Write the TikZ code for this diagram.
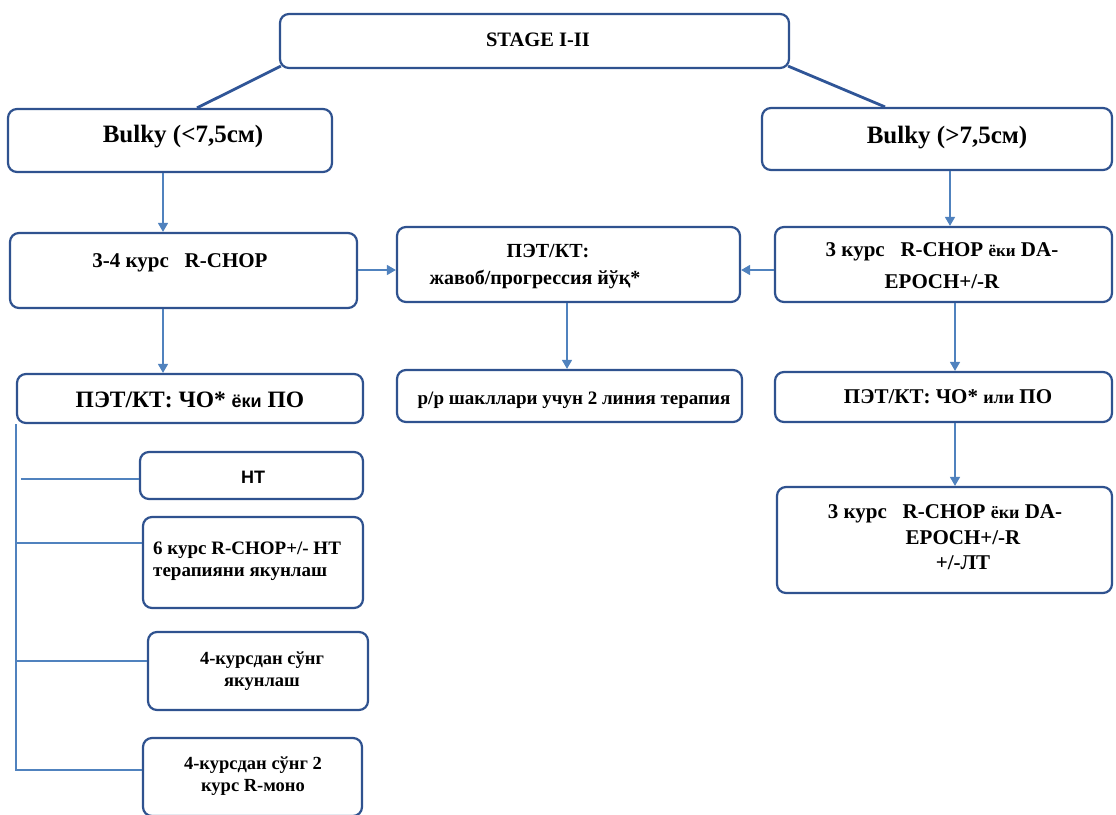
\documentclass[tikz,border=0pt]{standalone}
\usepackage{fontspec}
\setmainfont{Liberation Serif}
\newfontfamily\sansf{Liberation Sans}
\usetikzlibrary{arrows.meta,calc}
\definecolor{boxblue}{RGB}{47,82,143}
\definecolor{connblue}{RGB}{80,130,190}
\definecolor{topblue}{RGB}{47,85,151}
\tikzset{
  box/.style={draw=boxblue, line width=2.2pt, rounded corners=9pt, fill=white, inner sep=0pt},
  conn/.style={draw=connblue, line width=1.4pt},
  arr/.style={conn, -{Triangle[length=9pt,width=10pt]}},
  topline/.style={draw=topblue, line width=2.8pt},
  txt/.style={inner sep=0pt, align=center, font=\bfseries\fontsize{21}{32}\selectfont},
}
\begin{document}
\begin{tikzpicture}[x=1pt,y=-1pt]
\useasboundingbox (0,0) rectangle (1116,814);
% boxes
\node[box, minimum width=509pt, minimum height=54pt] (stage) at (534.5,41) {};
\node[box, minimum width=324pt, minimum height=63pt] (bl) at (170,140.5) {};
\node[box, minimum width=350pt, minimum height=62pt] (br) at (937,139) {};
\node[box, minimum width=347pt, minimum height=75pt] (c1) at (183.5,270.5) {};
\node[box, minimum width=343pt, minimum height=75pt] (mid) at (568.5,264.5) {};
\node[box, minimum width=337pt, minimum height=75pt] (r1) at (943.5,264.5) {};
\node[box, minimum width=346pt, minimum height=49pt] (p1) at (190,398.5) {};
\node[box, minimum width=345pt, minimum height=52pt] (m2) at (569.5,396) {};
\node[box, minimum width=337pt, minimum height=50pt] (p2) at (943.5,397) {};
\node[box, minimum width=335pt, minimum height=106pt] (r2) at (944.5,540) {};
\node[box, minimum width=223pt, minimum height=47pt] (ht) at (251.5,475.5) {};
\node[box, minimum width=220pt, minimum height=91pt] (b6) at (253,562.5) {};
\node[box, minimum width=220pt, minimum height=78pt] (b4) at (258,671) {};
\node[box, minimum width=219pt, minimum height=78pt] (bm) at (252.5,777) {};
% texts
\node[txt, font=\bfseries\fontsize{20.5}{24}\selectfont] (tstage) at (538,40) {STAGE I-II};
\node[txt, font=\bfseries\fontsize{25}{28}\selectfont] (tbl) at (183,137) {Bulky (<7,5см)};
\node[txt, font=\bfseries\fontsize{25}{28}\selectfont] (tbr) at (947,138) {Bulky (>7,5см)};
\node[txt] (tc1) at (180,263) {3-4 курс \ \ R-CHOP};
\node[txt, font=\bfseries\fontsize{23.5}{26}\selectfont] (tp1) at (190,400) {ПЭТ/КТ: ЧО* {\sansf\fontsize{18}{20}\selectfont ёки} ПО};
\node[txt, font=\bfseries\fontsize{20}{27}\selectfont] (tmid) at (535,266.5) {\hspace*{26pt}ПЭТ/КТ:\\ жавоб/прогрессия йўқ*};
\node[txt, font=\bfseries\fontsize{19}{22}\selectfont] (tm2) at (574,400) {р/р шакллари учун 2 линия терапия};
\node[txt] (tr1) at (942,266) {3 курс \ \ R-CHOP {\fontsize{17}{20}\selectfont ёки} DA-\\ EPOCH+/-R};
\node[txt, font=\bfseries\fontsize{21}{24}\selectfont] (tp2) at (948,397) {ПЭТ/КТ: ЧО* {\fontsize{18}{20}\selectfont или} ПО};
\node[txt, font=\bfseries\fontsize{21}{25.5}\selectfont] (tr2) at (945,537.5) {3 курс \ \ R-CHOP {\fontsize{18}{20}\selectfont ёки} DA-\\ \hspace*{36pt}EPOCH+/-R\\ \hspace*{36pt}+/-ЛТ};
\node[txt, font=\sansf\bfseries\fontsize{18}{22}\selectfont] (tht) at (253,477) {HT};
\node[txt, align=left, font=\bfseries\fontsize{19}{22}\selectfont, anchor=west] (tb6) at (153,561) {6 курс R-CHOP+/- HT\\ терапияни якунлаш};
\node[txt, font=\bfseries\fontsize{18.5}{22}\selectfont] (tb4) at (262,671) {4-курсдан сўнг\\ якунлаш};
\node[txt, font=\bfseries\fontsize{18.5}{22}\selectfont] (tbm) at (253,776) {4-курсдан сўнг 2\\ курс R-моно};
% top connectors
\draw[topline] ($(stage.south west)+(2,-3)$) -- ($(bl.north)+(27,0)$);
\draw[topline] ($(stage.south east)+(-2,-3)$) -- ($(br.north)+(-52,0)$);
% arrows
\draw[arr] (bl.south -| 163,0) -- (c1.north -| 163,0);
\draw[arr] (br.south -| 950,0) -- (r1.north -| 950,0);
\draw[arr] (c1.south -| 163,0) -- (p1.north -| 163,0);
\draw[arr] (r1.south -| 955,0) -- (p2.north -| 955,0);
\draw[arr] (p2.south -| 955,0) -- (r2.north -| 955,0);
\draw[arr] (mid.south -| 567,0) -- (m2.north -| 567,0);
\draw[arr] (c1.east |- 0,270) -- (mid.west |- 0,270);
\draw[arr] (r1.west |- 0,270) -- (mid.east |- 0,270);
% left tree
\draw[conn] (p1.south west) -- ($(p1.south west |- bm.west)+(0,-7)$) -- ($(bm.west)+(0,-7)$);
\draw[conn] ($(p1.south west |- ht.west)+(5,3.5)$) -- ($(ht.west)+(0,3.5)$);
\draw[conn] ($(p1.south west |- b6.west)+(0,-19.5)$) -- ($(b6.west)+(0,-19.5)$);
\draw[conn] ($(p1.south west |- b4.west)+(0,-10)$) -- ($(b4.west)+(0,-10)$);
\end{tikzpicture}
\end{document}
